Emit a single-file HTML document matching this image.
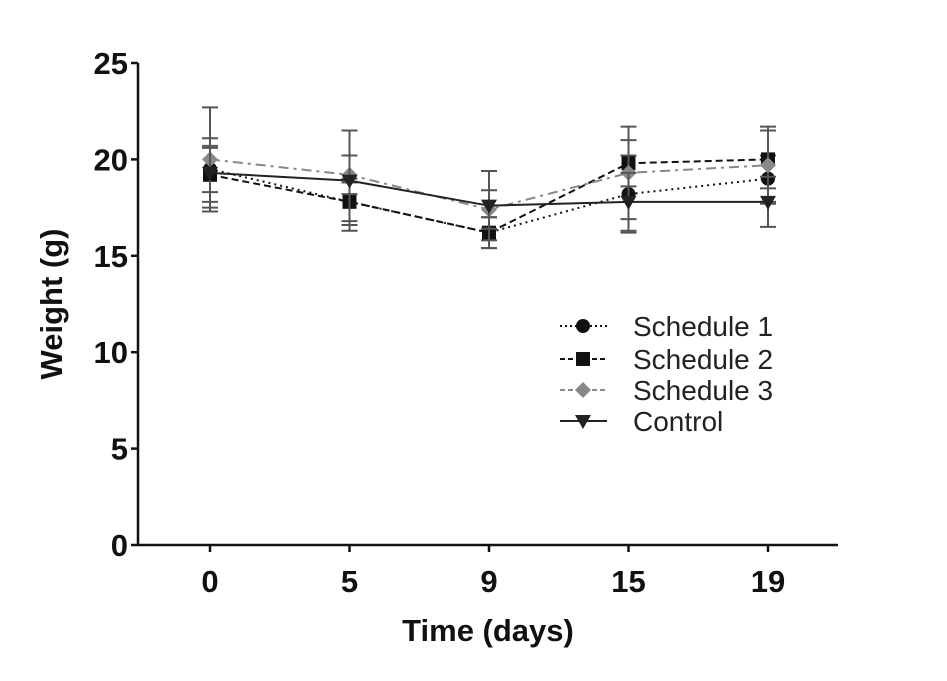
<!DOCTYPE html>
<html><head><meta charset="utf-8"><style>
html,body{margin:0;padding:0;background:#fff;}
svg{display:block;font-family:"Liberation Sans",Arial,sans-serif;}
</style></head><body>
<svg id="chart" width="947" height="681" viewBox="0 0 947 681"></svg>
<script>
const categories = ["0","5","9","15","19"];
const yTicks = [0,5,10,15,20,25];
const s1 = [19.5,17.8,16.2,18.2,19.0];
const s2 = [19.2,17.8,16.2,19.8,20.0];
const s3 = [20.0,19.2,17.4,19.3,19.7];
const ctrl = [19.3,18.9,17.6,17.8,17.8];
const s1Err = [1.2,1.0,0.8,2.0,1.2];
const s2Err = [1.4,1.2,0.8,1.2,1.5];
const s3Err = [2.7,1.0,1.0,2.4,2.0];
const ctrlErr = [1.8,2.6,1.8,1.5,1.3];

const NS="http://www.w3.org/2000/svg";
const svg=document.getElementById('chart');
const x0=138,x1=838,y0=545,yTop=63;
function ys(v){return y0-(v/25)*(y0-yTop);}
function xs(i){return 210+i*139.5;}
function mk(tag,attrs,parent){const e=document.createElementNS(NS,tag);for(const k in attrs)e.setAttribute(k,attrs[k]);(parent||svg).appendChild(e);return e;}

const ax=mk('path',{d:`M${x0} ${yTop} V${y0} H${x1}`,stroke:'#111',fill:'none','stroke-width':2.5});


yTicks.forEach(t=>{
  const l=mk('line',{x1:x0-7,x2:x0,y1:ys(t),y2:ys(t),stroke:'#111','stroke-width':2.5});
  
  
  const tx=mk('text',{x:x0-10,y:ys(t)+11,'text-anchor':'end','font-size':31,'font-weight':'bold',fill:'#111'});
  tx.textContent=t;
  
  
});
categories.forEach((c,i)=>{
  const l=mk('line',{x1:xs(i),x2:xs(i),y1:y0,y2:y0+7,stroke:'#111','stroke-width':2.5});
  
  
  const tx=mk('text',{x:xs(i),y:y0+47,'text-anchor':'middle','font-size':31,'font-weight':'bold',fill:'#111'});
  tx.textContent=c;
  
  
});
const xt=mk('text',{x:488,y:641,'text-anchor':'middle','font-size':31,'font-weight':'bold',fill:'#111'});
xt.textContent='Time (days)';


const yt=mk('text',{x:0,y:0,transform:'translate(62,304) rotate(-90)','text-anchor':'middle','font-size':31,'font-weight':'bold',fill:'#111'});
yt.textContent='Weight (g)';



function marker(kind,cx,cy,color,g){
  if(kind==='circle') return mk('circle',{cx,cy,r:7,fill:color},g);
  if(kind==='square') return mk('rect',{x:cx-7,y:cy-7,width:14,height:14,fill:color},g);
  if(kind==='diamond') return mk('path',{d:`M${cx} ${cy-8}L${cx+8} ${cy}L${cx} ${cy+8}L${cx-8} ${cy}Z`,fill:color},g);
  return mk('path',{d:`M${cx-8} ${cy-6}L${cx+8} ${cy-6}L${cx} ${cy+8}Z`,fill:color},g);
}
const series=[
 {name:'schedule-1',vals:s1,err:s1Err,dash:'2,4',color:'#111',kind:'circle',label:'Schedule 1'},
 {name:'schedule-2',vals:s2,err:s2Err,dash:'7,4',color:'#111',kind:'square',label:'Schedule 2'},
 {name:'schedule-3',vals:s3,err:s3Err,dash:'10,5,3,5',color:'#888',kind:'diamond',label:'Schedule 3'},
 {name:'control',vals:ctrl,err:ctrlErr,dash:'none',color:'#222',kind:'triangle',label:'Control'}
];
series.forEach(s=>{
  const g=mk('g',{});
  
  
  s.vals.forEach((v,i)=>{
    const e=s.err[i],x=xs(i);
    const eb=mk('path',{d:`M${x} ${ys(v+e)}V${ys(v-e)}M${x-8} ${ys(v+e)}H${x+8}M${x-8} ${ys(v-e)}H${x+8}`,stroke:'#555','stroke-width':2,fill:'none'},g);
    
    
  });
  const pl=mk('polyline',{points:s.vals.map((v,i)=>xs(i)+','+ys(v)).join(' '),fill:'none',stroke:s.color,'stroke-width':2,'stroke-dasharray':s.dash},g);
  
  
  s.vals.forEach((v,i)=>{
    const m=marker(s.kind,xs(i),ys(v),s.color,g);
    
    
  });
});
const lg=mk('g',{});


const rows=[326,359,390,421];
series.forEach((s,k)=>{
  const y=rows[k];
  const e=mk('g',{},lg);
  
  
  mk('line',{x1:560,x2:607,y1:y,y2:y,stroke:s.color,'stroke-width':2,'stroke-dasharray':s.dash==='none'?'none':(s.kind==='circle'?'2,3':'5,3')},e);
  marker(s.kind,583,y,s.color,e);
  const t=mk('text',{x:633,y:y+10,'font-size':28,fill:'#222'},e);
  t.textContent=s.label;
});
</script>
</body></html>
